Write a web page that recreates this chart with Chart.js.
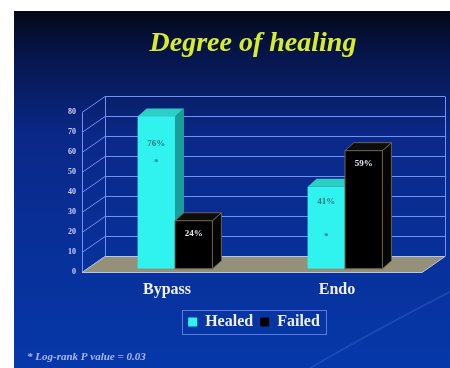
<!DOCTYPE html>
<html>
<head>
<meta charset="utf-8">
<script src="https://cdn.jsdelivr.net/npm/chart.js@4.4.1/dist/chart.umd.min.js"></script>
<style>
  html, body { margin: 0; padding: 0; background: #fff; }
  #wrap { width: 450px; height: 368px; position: relative; }
</style>
</head>
<body>
<div id="wrap"><canvas id="healing" width="450" height="368"></canvas></div>
<script>
// data
var categories = ["Bypass", "Endo"];
var healed = [76, 41];
var failed = [24, 59];
var yTicks = [0, 10, 20, 30, 40, 50, 60, 70, 80];
var healedLabels = ["76%", "41%"];
var failedLabels = ["24%", "59%"];
var footnote = "* Log-rank P value = 0.03";

var WALL_DX = 23, WALL_DY = -16; // depth of back wall
var BAR_DX = 9, BAR_DY = -8;     // depth of the bars
var SHIFT_X = 8, SHIFT_Y = -3;   // bars stand a little way into the floor
var SERIF = "'Liberation Serif', 'DejaVu Serif', serif";

function poly(ctx, pts, fill, stroke) {
  ctx.beginPath();
  ctx.moveTo(pts[0][0], pts[0][1]);
  for (var i = 1; i < pts.length; i++) ctx.lineTo(pts[i][0], pts[i][1]);
  ctx.closePath();
  if (fill) { ctx.fillStyle = fill; ctx.fill(); }
  if (stroke) { ctx.strokeStyle = stroke; ctx.lineWidth = 1; ctx.stroke(); }
}

var scene3d = {
  id: 'scene3d',
  afterLayout: function (chart) {
    // the slide content sits right of the canvas centre
    chart.titleBlock.left += 16; chart.titleBlock.right += 16;
    chart.legend.left += 17; chart.legend.right += 17;
  },
  beforeDraw: function (chart) {
    var ctx = chart.ctx;
    ctx.save();
    ctx.fillStyle = '#ffffff';
    ctx.fillRect(0, 0, chart.width, chart.height);
    var g = ctx.createLinearGradient(0, 11, 0, chart.height);
    g.addColorStop(0, '#030817');
    g.addColorStop(0.12, '#06154a');
    g.addColorStop(0.35, '#0a2888');
    g.addColorStop(1, '#0638aa');
    ctx.fillStyle = g;
    ctx.fillRect(14, 11, chart.width - 14, chart.height - 11);
    // faint swoosh lower right
    ctx.strokeStyle = 'rgba(120,160,255,0.18)';
    ctx.lineWidth = 2;
    ctx.beginPath();
    ctx.moveTo(310, 368);
    ctx.quadraticCurveTo(385, 325, 450, 292);
    ctx.stroke();
    ctx.restore();
  },
  beforeDatasetsDraw: function (chart) {
    var ctx = chart.ctx, y = chart.scales.y, a = chart.chartArea;
    ctx.save();
    ctx.strokeStyle = '#7390f4';
    ctx.lineWidth = 1;
    // back wall grid + diagonals
    yTicks.forEach(function (v) {
      var py = Math.round(y.getPixelForValue(v)) + 0.5;
      ctx.beginPath();
      ctx.moveTo(a.left, py);
      ctx.lineTo(a.left + WALL_DX, py + WALL_DY);
      ctx.lineTo(a.right + WALL_DX, py + WALL_DY);
      ctx.stroke();
    });
    var top = Math.round(y.getPixelForValue(yTicks[yTicks.length - 1])) + 0.5;
    var bot = Math.round(y.getPixelForValue(0)) + 0.5;
    ctx.beginPath();
    ctx.moveTo(a.left + 0.5, top); ctx.lineTo(a.left + 0.5, bot);
    ctx.moveTo(a.left + WALL_DX + 0.5, top + WALL_DY); ctx.lineTo(a.left + WALL_DX + 0.5, bot + WALL_DY);
    ctx.moveTo(a.right + WALL_DX + 0.5, top + WALL_DY); ctx.lineTo(a.right + WALL_DX + 0.5, bot + WALL_DY);
    ctx.stroke();
    // floor
    poly(ctx, [[a.left, bot], [a.right, bot], [a.right + WALL_DX, bot + WALL_DY], [a.left + WALL_DX, bot + WALL_DY]], '#939179', '#b8c4e8');
    // bar sides and tops, then fronts are drawn by Chart.js on top
    ctx.translate(SHIFT_X, SHIFT_Y);
    for (var i = 0; i < categories.length; i++) {
      chart.data.datasets.forEach(function (ds, d) {
        var b = chart.getDatasetMeta(d).data[i].getProps(['x', 'y', 'base', 'width'], true);
        var l = b.x - b.width / 2, r = b.x + b.width / 2;
        poly(ctx, [[r, b.y], [r + BAR_DX, b.y + BAR_DY], [r + BAR_DX, b.base + BAR_DY], [r, b.base]], ds.sideColor, ds.edgeColor);
        poly(ctx, [[l, b.y], [r, b.y], [r + BAR_DX, b.y + BAR_DY], [l + BAR_DX, b.y + BAR_DY]], ds.topColor, ds.edgeColor);
      });
    }
    ctx.restore();
    ctx.save();
    ctx.translate(SHIFT_X, SHIFT_Y);
  },
  afterDatasetsDraw: function (chart) {
    var ctx = chart.ctx;
    ctx.restore();
    ctx.save();
    ctx.translate(SHIFT_X, SHIFT_Y);
    ctx.textAlign = 'center';
    ctx.textBaseline = 'middle';
    ctx.font = 'bold 9px ' + SERIF;
    for (var i = 0; i < categories.length; i++) {
      var h = chart.getDatasetMeta(0).data[i].getProps(['x', 'y', 'base', 'width'], true);
      var f = chart.getDatasetMeta(1).data[i].getProps(['x', 'y', 'base', 'width'], true);
      ctx.strokeStyle = '#6e6050';
      ctx.lineWidth = 1;
      ctx.strokeRect(f.x - f.width / 2, f.y, f.width, f.base - f.y);
      ctx.fillStyle = '#1f7f86';
      ctx.fillText(healedLabels[i], h.x, h.y + (i === 0 ? 27 : 15));
      ctx.fillText('*', h.x, h.y + (i === 0 ? 46 : 50));
      ctx.fillStyle = '#e8e8f0';
      ctx.fillText(failedLabels[i], f.x, f.y + 13);
    }
    ctx.restore();
  },
  afterDraw: function (chart) {
    var ctx = chart.ctx, boxes = chart.legend.legendHitBoxes;
    ctx.save();
    if (boxes && boxes.length) {
      var l = boxes[0].left - 6, r = boxes[boxes.length - 1].left + boxes[boxes.length - 1].width + 6;
      var t = boxes[0].top - 4, btm = boxes[0].top + boxes[0].height + 4;
      ctx.strokeStyle = '#5d7ad8';
      ctx.lineWidth = 1;
      ctx.strokeRect(Math.round(l) + 0.5, Math.round(t) + 0.5, Math.round(r - l), Math.round(btm - t));
    }
    ctx.fillStyle = '#a9b9f5';
    ctx.font = 'italic bold 11px ' + SERIF;
    ctx.textBaseline = 'middle';
    ctx.fillText(footnote, 27, 357);
    ctx.restore();
  }
};

new Chart(document.getElementById('healing'), {
  type: 'bar',
  data: {
    labels: categories,
    datasets: [
      { label: 'Healed', data: healed, backgroundColor: '#30f2ee', borderWidth: 0,
        sideColor: '#1b9d9b', topColor: '#2ccfc4', edgeColor: null },
      { label: 'Failed', data: failed, backgroundColor: '#000000', borderColor: '#6e6050', borderWidth: 0,
        sideColor: '#050505', topColor: '#0d0d0d', edgeColor: '#6e6050' }
    ]
  },
  options: {
    responsive: false,
    animation: false,
    devicePixelRatio: 1,
    layout: { padding: { left: 52, right: 28, top: 0, bottom: 28 } },
    datasets: { bar: { categoryPercentage: 0.44, barPercentage: 1 } },
    scales: {
      x: {
        grid: { display: false, drawTicks: false },
        border: { display: false },
        ticks: { color: '#f0f0ff', padding: 8, font: { family: SERIF, size: 16, weight: 'bold' } }
      },
      y: {
        min: 0, max: 80,
        afterBuildTicks: function (s) { s.ticks = yTicks.map(function (v) { return { value: v }; }); },
        afterFit: function (s) { s.width = 30; },
        grid: { display: false, drawTicks: false },
        border: { display: false },
        ticks: { color: '#c8d2ff', padding: 6, font: { family: SERIF, size: 8, weight: 'bold' } }
      }
    },
    plugins: {
      title: {
        display: true, text: 'Degree of healing', color: '#d9ec2c',
        font: { family: SERIF, size: 28, weight: 'bold', style: 'italic' },
        padding: { top: 27, bottom: 51 }
      },
      legend: {
        position: 'bottom',
        labels: { color: '#eef0ff', boxWidth: 9, boxHeight: 9, padding: 7,
          font: { family: SERIF, size: 16, weight: 'bold' } }
      },
      tooltip: { enabled: false }
    }
  },
  plugins: [scene3d]
});
</script>
</body>
</html>
